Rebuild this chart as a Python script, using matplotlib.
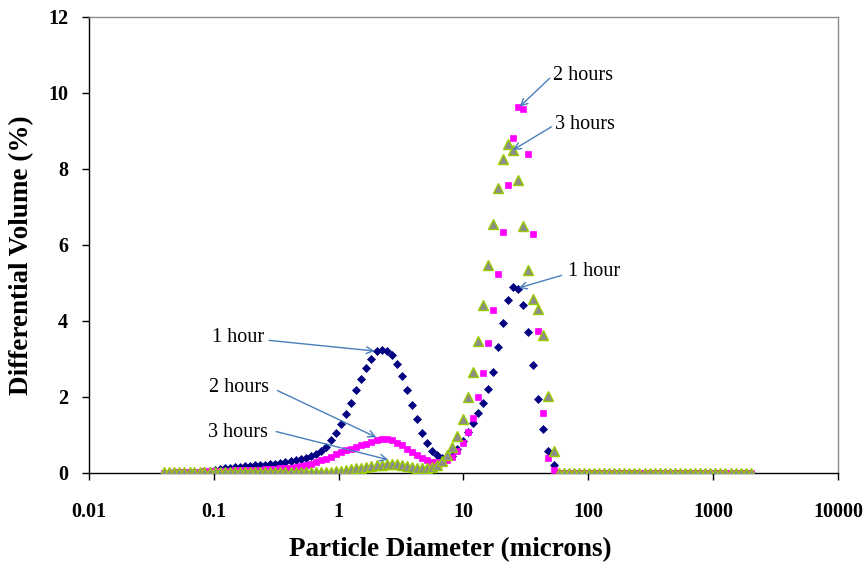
import matplotlib
matplotlib.use("Agg")
import matplotlib.pyplot as plt
from matplotlib.ticker import FixedLocator, NullLocator

plt.rcParams['font.family'] = ['Liberation Serif', 'DejaVu Serif']

# Particle size channels (microns)
diameter = [0.040, 0.044, 0.048, 0.053, 0.058, 0.064, 0.070, 0.077, 0.084, 0.093,
            0.102, 0.112, 0.122, 0.134, 0.148, 0.162, 0.178, 0.195, 0.214, 0.235,
            0.258, 0.284, 0.311, 0.342, 0.375, 0.412, 0.452, 0.496, 0.545, 0.598,
            0.657, 0.721, 0.791, 0.869, 0.953, 1.047, 1.149, 1.261, 1.385, 1.520,
            1.669, 1.832, 2.011, 2.208, 2.423, 2.660, 2.920, 3.206, 3.519, 3.863,
            4.241, 4.656, 5.111, 5.611, 6.159, 6.761, 7.422, 8.148, 8.944, 9.819,
            10.78, 11.83, 12.99, 14.26, 15.65, 17.18, 18.86, 20.71, 22.73, 24.95,
            27.39, 30.07, 33.01, 36.24, 39.78, 43.67, 47.94, 52.62, 57.77, 63.41,
            69.61, 76.42, 83.89, 92.09, 101.1, 111.0, 121.8, 133.7, 146.8, 161.2,
            176.9, 194.2, 213.2, 234.1, 256.9, 282.1, 309.6, 339.9, 373.1, 409.6,
            449.7, 493.6, 541.9, 594.9, 653.0, 716.9, 786.9, 863.9, 948.3, 1041,
            1143, 1255, 1377, 1512, 1660, 1822, 2000]

hour1 = [0.00, 0.00, 0.01, 0.01, 0.01, 0.02, 0.02, 0.03, 0.04, 0.06,
         0.08, 0.10, 0.12, 0.14, 0.16, 0.17, 0.18, 0.19, 0.20, 0.21,
         0.22, 0.23, 0.24, 0.26, 0.28, 0.31, 0.33, 0.36, 0.40, 0.45,
         0.51, 0.58, 0.69, 0.86, 1.06, 1.28, 1.56, 1.85, 2.18, 2.47,
         2.76, 3.00, 3.20, 3.24, 3.22, 3.10, 2.87, 2.54, 2.19, 1.79,
         1.42, 1.06, 0.78, 0.58, 0.47, 0.40, 0.38, 0.45, 0.62, 0.84,
         1.09, 1.31, 1.58, 1.85, 2.21, 2.67, 3.32, 3.96, 4.55, 4.89,
         4.84, 4.42, 3.70, 2.85, 1.94, 1.16, 0.58, 0.21, 0.00, 0.00] + [0.0] * 37

hour2 = [0.01, 0.01, 0.02, 0.02, 0.02, 0.03, 0.03, 0.03, 0.04, 0.04,
         0.05, 0.05, 0.06, 0.06, 0.07, 0.07, 0.08, 0.08, 0.09, 0.09,
         0.10, 0.10, 0.11, 0.12, 0.12, 0.13, 0.16, 0.18, 0.22, 0.25,
         0.29, 0.33, 0.38, 0.43, 0.49, 0.55, 0.60, 0.64, 0.69, 0.73,
         0.77, 0.82, 0.87, 0.90, 0.89, 0.86, 0.80, 0.73, 0.64, 0.55,
         0.47, 0.40, 0.34, 0.30, 0.29, 0.30, 0.33, 0.43, 0.58, 0.79,
         1.09, 1.45, 1.99, 2.64, 3.43, 4.28, 5.23, 6.33, 7.58, 8.82,
         9.63, 9.58, 8.39, 6.28, 3.73, 1.59, 0.40, 0.07, 0.00, 0.00] + [0.0] * 37

hour3 = [0.03, 0.03, 0.03, 0.03, 0.03, 0.03, 0.03, 0.03, 0.03, 0.03,
         0.03, 0.03, 0.03, 0.03, 0.03, 0.03, 0.03, 0.03, 0.03, 0.03,
         0.03, 0.03, 0.03, 0.03, 0.03, 0.03, 0.03, 0.03, 0.02, 0.02,
         0.02, 0.02, 0.02, 0.03, 0.04, 0.06, 0.08, 0.10, 0.12, 0.14,
         0.16, 0.18, 0.20, 0.22, 0.24, 0.25, 0.24, 0.22, 0.19, 0.16,
         0.14, 0.12, 0.13, 0.16, 0.22, 0.32, 0.47, 0.69, 0.98, 1.42,
         1.99, 2.66, 3.48, 4.42, 5.48, 6.54, 7.51, 8.27, 8.66, 8.51,
         7.70, 6.49, 5.33, 4.57, 4.32, 3.64, 2.03, 0.58, 0.00, 0.00] + [0.0] * 37

x_ticks = [0.01, 0.1, 1, 10, 100, 1000, 10000]
x_tick_labels = ['0.01', '0.1', '1', '10', '100', '1000', '10000']
y_ticks = [0, 2, 4, 6, 8, 10, 12]

# annotations: (label, text position, arrow tail, arrow tip, alignment)
annotations = [
    ('1 hour',  (0.157, 3.57), (0.277, 3.49), (1.94, 3.21), 'center'),
    ('2 hours', (0.160, 2.25), (0.323, 2.17), (2.00, 0.94), 'center'),
    ('3 hours', (0.157, 1.07), (0.316, 1.09), (2.49, 0.35), 'center'),
    ('2 hours', (52.3, 10.47), (49.1, 10.39), (28.2, 9.64), 'left'),
    ('3 hours', (54.5, 9.16), (50.6, 9.11), (24.9, 8.50), 'left'),
    ('1 hour',  (68.9, 5.31), (61.0, 5.20), (27.7, 4.87), 'left'),
]

W, H = 866, 564
fig = plt.figure(figsize=(W / 100, H / 100), dpi=100)
ax = fig.add_axes([89 / W, 1 - 473 / H, (838 - 89) / W, (473 - 17) / H])

ax.plot(diameter, hour1, linestyle='none', marker='D', ms=4.3,
        mfc='#000080', mec='#000080', mew=0.5, zorder=3)
ax.plot(diameter, hour2, linestyle='none', marker='s', ms=4.3,
        mfc='#FF00FF', mec='#FF00FF', mew=0.5, zorder=4)
ax.plot(diameter, hour3, linestyle='none', marker='^', ms=7,
        mfc='#8C8C8C', mec='#99CC00', mew=1.0, zorder=5)

ax.set_xscale('log')
ax.set_xlim(0.01, 10000)
ax.set_ylim(0, 12)
ax.xaxis.set_major_locator(FixedLocator(x_ticks))
ax.xaxis.set_minor_locator(NullLocator())
ax.set_xticklabels(x_tick_labels)
ax.set_yticks(y_ticks)
ax.set_yticklabels([str(v) for v in y_ticks])

for lab in ax.get_xticklabels() + ax.get_yticklabels():
    lab.set_fontweight('bold')
    lab.set_fontsize(14.5)
ax.tick_params(axis='x', direction='out', length=5, width=1, pad=16, color='black')
ax.tick_params(axis='y', direction='out', length=5, width=1, pad=10, color='black')
ax.tick_params(axis='x', which='minor', length=0)

ax.spines['left'].set_color('black')
ax.spines['bottom'].set_color('black')
ax.spines['top'].set_color('#8C8C8C')
ax.spines['right'].set_color('#8C8C8C')
for s in ax.spines.values():
    s.set_linewidth(1.0)

for label, tpos, tail, tip, ha in annotations:
    ax.text(tpos[0], tpos[1], label, fontsize=14.5, ha=ha, va='center', zorder=6)
    ax.annotate('', xy=tip, xytext=tail,
                arrowprops=dict(arrowstyle='->', color='#4A7EBB', lw=1.0,
                                shrinkA=0, shrinkB=0, mutation_scale=12),
                zorder=6)

fig.text(450 / W, 1 - 550 / H, 'Particle Diameter (microns)', fontsize=19.5,
         fontweight='bold', ha='center', va='center')
fig.text(22 / W, 1 - 255 / H, 'Differential Volume (%)', fontsize=19.5,
         fontweight='bold', ha='center', va='center', rotation=90)

fig.savefig('out.png', dpi=100)
